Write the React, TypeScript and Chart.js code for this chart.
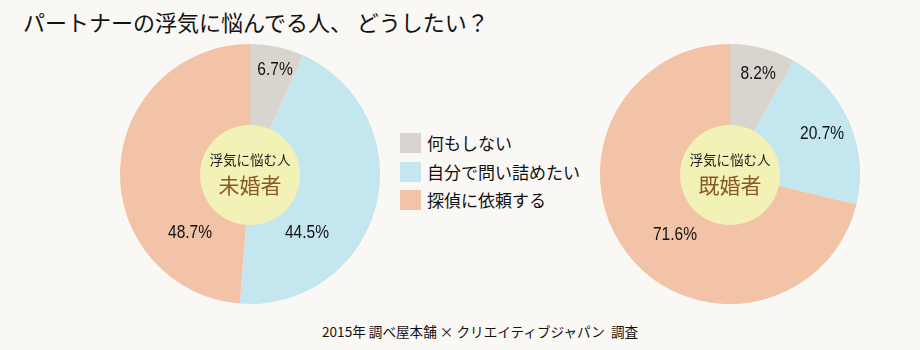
import React, { useEffect, useRef } from "react";
import { Chart, registerables } from "chart.js";

Chart.register(...registerables);

const titleText = "パートナーの浮気に悩んでる人、 どうしたい？";
const categories = ["何もしない", "自分で問い詰めたい", "探偵に依頼する"];
const unmarriedValues = [6.7, 44.5, 48.7];
const marriedValues = [8.2, 20.7, 71.6];
const centerCaption = "浮気に悩む人";
const groupNames = ["未婚者", "既婚者"];
const footerText = "2015年 調べ屋本舗 × クリエイティブジャパン  調査";

const sliceColors = ["#d9d4ce", "#c4e6ef", "#f2c3a6"];
const BG = "#f9f8f4";
const CJK = '"Noto Sans CJK JP", "Noto Sans", sans-serif';
const NARROW = '"Liberation Sans", Arial, sans-serif';

const pieDecorPlugin = {
  id: "pieDecor",
  afterDatasetsDraw(chart: any, _args: any, opts: any) {
    const meta = chart.getDatasetMeta(0);
    if (!meta || !meta.data.length) return;
    const ctx = chart.ctx;
    const first = meta.data[0].getProps(["x", "y", "outerRadius"], true);
    const cx = first.x;
    const cy = first.y;
    const R = first.outerRadius;
    ctx.save();
    // percentage labels
    ctx.fillStyle = "#111";
    ctx.font = `18.5px ${NARROW}`;
    ctx.textAlign = "center";
    ctx.textBaseline = "middle";
    const values = chart.data.datasets[0].data as number[];
    meta.data.forEach((arc: any, i: number) => {
      const p = arc.getProps(["startAngle", "endAngle"], true);
      const mid = (p.startAngle + p.endAngle) / 2 + ((opts.angleShift?.[i] || 0) * Math.PI) / 180;
      const rr = R * (opts.radiusFrac?.[i] ?? 0.7);
      ctx.save();
      ctx.translate(cx + Math.cos(mid) * rr, cy + Math.sin(mid) * rr);
      ctx.scale(0.84, 1);
      ctx.fillText(values[i].toFixed(1) + "%", 0, 0);
      ctx.restore();
    });
    // center circle
    ctx.beginPath();
    ctx.fillStyle = "#f3f2b6";
    ctx.arc(cx, cy + 1, R * 0.385, 0, Math.PI * 2);
    ctx.fill();
    ctx.fillStyle = "#1a1a1a";
    ctx.font = `13.5px ${CJK}`;
    ctx.fillText(opts.caption, cx, cy - 14);
    ctx.fillStyle = "#8a5a24";
    ctx.font = `21px ${CJK}`;
    ctx.fillText(opts.group, cx, cy + 11);
    ctx.restore();
  },
};

function PieChart({ values, group, angleShift, radiusFrac }: any) {
  const ref = useRef<HTMLCanvasElement>(null);
  useEffect(() => {
    if (!ref.current) return;
    const chart = new Chart(ref.current, {
      type: "pie",
      data: {
        labels: categories,
        datasets: [
          {
            data: values,
            backgroundColor: sliceColors,
            borderWidth: 0,
          },
        ],
      },
      options: {
        animation: false,
        responsive: false,
        maintainAspectRatio: false,
        layout: { padding: 0 },
        plugins: {
          legend: { display: false },
          tooltip: { enabled: false },
          pieDecor: { caption: centerCaption, group, angleShift, radiusFrac },
        } as any,
      },
      plugins: [pieDecorPlugin],
    });
    return () => chart.destroy();
  }, []);
  return <canvas ref={ref} width={260} height={260} style={{ width: 260, height: 260, display: "block" }} />;
}

export default function App() {
  return (
    <div
      style={{
        position: "absolute",
        left: 0,
        top: 0,
        width: 920,
        height: 350,
        background: BG,
        overflow: "hidden",
        fontFamily: CJK,
      }}
    >
      <div
        style={{
          position: "absolute",
          left: 23,
          top: 6,
          fontSize: 22,
          lineHeight: "30px",
          color: "#111",
          whiteSpace: "pre",
        }}
      >
        {titleText}
      </div>
      <div style={{ position: "absolute", left: 120, top: 44 }}>
        <PieChart values={unmarriedValues} group={groupNames[0]} angleShift={[1.4, 31.4, -46.6]} radiusFrac={[0.827, 0.628, 0.645]} />
      </div>
      <div style={{ position: "absolute", left: 600, top: 44 }}>
        <PieChart values={marriedValues} group={groupNames[1]} angleShift={[1, 0, -9.5]} radiusFrac={[0.8, 0.773, 0.629]} />
      </div>
      <div style={{ position: "absolute", left: 400, top: 129 }}>
        {categories.map((c, i) => (
          <div key={c} style={{ display: "flex", alignItems: "center", height: 28.5 }}>
            <div style={{ width: 21, height: 20, background: sliceColors[i], marginRight: 6 }} />
            <div style={{ fontSize: 17, color: "#111", lineHeight: "20px", whiteSpace: "pre" }}>{c}</div>
          </div>
        ))}
      </div>
      <div
        style={{
          position: "absolute",
          left: 322,
          top: 321,
          fontSize: 13.6,
          lineHeight: "20px",
          color: "#111",
          whiteSpace: "pre",
        }}
      >
        {footerText}
      </div>
    </div>
  );
}
